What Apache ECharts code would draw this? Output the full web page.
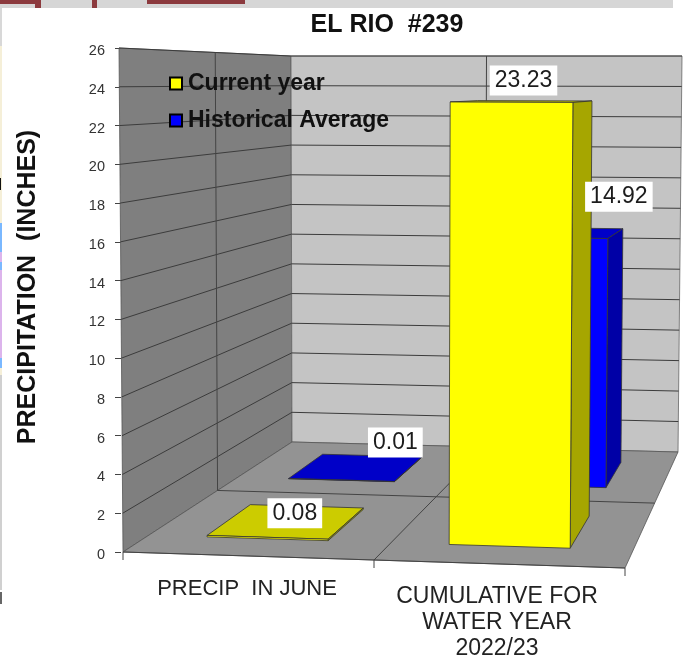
<!DOCTYPE html>
<html><head><meta charset="utf-8">
<style>html,body{margin:0;padding:0;background:#fff}#c{width:694px;height:658px}</style>
<script src="https://cdn.jsdelivr.net/npm/echarts@6/dist/echarts.min.js"></script>
</head><body><div id="c"></div>
<script>
const categories = ['PRECIP  IN JUNE', 'CUMULATIVE FOR\nWATER YEAR\n2022/23'];
const currentYear = [0.08, 23.23];
const historicalAverage = [0.01, 14.92];
const yMax = 26;
const yStep = 2;
const yTicks = [0,2,4,6,8,10,12,14,16,18,20,22,24,26];

const FONT = '"Liberation Sans", Arial, sans-serif';
const LINE = '#3c3c3c';
// frame of the perspective box: floor corners and ceiling corners
const base = {LF:[123,552], RF:[625,568], LB:[292,442], RB:[678,452]};
const roof = {LF:[119,48], RF:[629,48], LB:[291,56], RB:[682,56]};
const K = 1.27;
const mix = (a,b,f)=>[a[0]+(b[0]-a[0])*f, a[1]+(b[1]-a[1])*f];
function project(u,d,t){
  const s = K*d/(1+(K-1)*d);
  const plane = c => mix(mix(c.LF,c.RF,u), mix(c.LB,c.RB,u), s);
  return mix(plane(base), plane(roof), t);
}
function tOf(api,v){
  const y0 = api.coord([0,0])[1], y1 = api.coord([0,yMax])[1];
  return (y0-api.coord([0,v])[1])/(y0-y1);
}
const poly = (pts,fill,z,stroke)=>({type:'polygon',z2:z||0,shape:{points:pts},
  style:{fill,stroke:stroke||'#333',lineWidth:0.8}});
const seg = (a,b,z,color,w)=>({type:'line',z2:z||0,shape:{x1:a[0],y1:a[1],x2:b[0],y2:b[1]},
  style:{stroke:color||LINE,lineWidth:w||1,fill:null}});

function renderFrame(params,api){
  const kids=[];
  const P=project;
  kids.push(poly([P(0,0,0),P(0,0,1),P(0,1,1),P(0,1,0)],'#7f7f7f',0,'#555'));
  kids.push(poly([P(0,1,0),P(0,1,1),P(1,1,1),P(1,1,0)],'#c4c4c4',0,'#666'));
  kids.push(poly([P(0,0,0),P(0,1,0),P(1,1,0),P(1,0,0)],'#939393',0,'#555'));
  yTicks.forEach(v=>{
    if(v===0) return;
    const t=tOf(api,v);
    kids.push(seg(P(0,0,t),P(0,1,t),1));
    kids.push(seg(P(0,1,t),P(1,1,t),1));
  });
  kids.push(seg(P(0,.5,0),P(0,.5,1),1,'#444'));
  kids.push(seg(P(.5,1,0),P(.5,1,1),1,'#444'));
  kids.push(seg(P(0,.5,0),P(1,.5,0),1,'#444'));
  kids.push(seg(P(.5,0,0),P(.5,1,0),1,'#444'));
  kids.push(seg(P(0,0,0),P(1,0,0),1,'#444'));
  // slanted category axis ticks
  [0,.5,1].forEach(u=>{
    const a=P(u,0,0); kids.push(seg(a,[a[0],a[1]+8],1,'#444'));
  });
  return {type:'group',children:kids};
}
function centerU(params,api,i){
  const cs=params.coordSys;
  return (api.coord([i,0])[0]-cs.x)/cs.width-0.005;
}
function barRenderer(d0,d1,c){
  return function(params,api){
    const i=api.value(0), v=api.value(1);
    const uc=centerU(params,api,i);
    const u0=uc-.125,u1=uc+.125,t=tOf(api,v);
    const P=project, kids=[];
    kids.push(poly([P(u0,d0,t),P(u0,d1,t),P(u1,d1,t),P(u1,d0,t)],c.top,2));
    kids.push(poly([P(u1,d0,0),P(u1,d0,t),P(u1,d1,t),P(u1,d1,0)],c.side,2));
    kids.push(poly([P(u0,d0,0),P(u0,d0,t),P(u1,d0,t),P(u1,d0,0)],c.front,3));
    return {type:'group',children:kids};
  };
}
function labelRenderer(d0,d1,labelShift){
  return function(params,api){
    const i=api.value(0);
    const a=project(centerU(params,api,i),(d0+d1)/2,tOf(api,api.value(1))), sh=labelShift[i];
    return {type:'text',z2:20,style:{text:String(api.value(1)),x:a[0]+sh[0],y:a[1]+sh[1],
      align:'center',verticalAlign:'middle',font:'23px '+FONT,fill:'#1c1c1c',
      backgroundColor:'#fff',padding:[4,5,3,5]}};
  };
}
const pairs = arr => arr.map((v,i)=>[i,v]);

const chart = echarts.init(document.getElementById('c'),null,{renderer:'canvas'});
const redBits=[[0,0,40,4],[35,0,6,8],[92,0,5,8],[147,0,98,4]];
const leftBits=[[0,8,2,38,'#d8d8d8'],[0,46,2,177,'#f5efd8'],[0,178,1,12,'#111'],[0,223,2,29,'#7ab8ff'],[0,252,2,10,'#dcb4ec'],
  [0,262,2,8,'#7ab8ff'],[0,270,2,88,'#dcb4ec'],[0,358,2,10,'#7ab8ff'],[0,368,2,7,'#f5efd8'],[0,375,2,215,'#d0d0d0'],[0,592,2,12,'#666']];
const custom2d = {type:'custom',coordinateSystem:'cartesian2d',encode:{x:0,y:1}};
chart.setOption({
  animation:false,
  backgroundColor:'#fff',
  title:{text:'EL RIO  #239',left:382,textAlign:'center',top:8,
    textStyle:{fontFamily:FONT,fontWeight:'bold',fontSize:25,color:'#111'}},
  legend:{left:169,top:72,padding:0,orient:'vertical',itemWidth:12,itemHeight:12,itemGap:14,z:30,
    icon:'rect',data:['Current year','Historical Average'],
    textStyle:{fontFamily:FONT,fontWeight:'bold',fontSize:23,color:'#111',padding:[0,0,0,1]}},
  grid:{left:121,top:48,width:504,height:504,outerBoundsMode:'none'},
  xAxis:{type:'category',
    data:[{value:categories[0],textStyle:{fontSize:22}},{value:categories[1],textStyle:{fontSize:23,padding:[8,4,0,0]}}],
    axisLine:{show:false},axisTick:{show:false},
    axisLabel:{interval:0,margin:24,fontFamily:FONT,color:'#222',lineHeight:26,verticalAlign:'top'}},
  yAxis:{type:'value',min:0,max:yMax,interval:yStep,
    name:'PRECIPITATION  (INCHES)',nameLocation:'middle',nameGap:80,nameRotate:90,
    nameTextStyle:{fontFamily:FONT,fontWeight:'bold',fontSize:25,color:'#111',padding:[0,0,0,26]},
    axisLine:{show:false},splitLine:{show:false},
    axisTick:{show:true,length:6,lineStyle:{color:'#444'}},
    axisLabel:{margin:16,fontFamily:FONT,fontSize:14.5,color:'#333',verticalAlign:'top',lineHeight:6,showMinLabel:true,showMaxLabel:true}},
  graphic:[
    {type:'rect',z:50,shape:{x:0,y:0,width:673,height:8},style:{fill:'#d6d6d6'}},
    ...redBits.map(b=>({type:'rect',z:51,shape:{x:b[0],y:b[1],width:b[2],height:b[3]},style:{fill:'#8c3a3e'}})),
    ...leftBits.map(b=>({type:'rect',z:51,shape:{x:b[0],y:b[1],width:b[2],height:b[3]},style:{fill:b[4]}}))
  ],
  series:[
    {...custom2d,silent:true,z:1,data:[[0,0]],renderItem:renderFrame},
    {...custom2d,name:'Historical Average',z:2,
      itemStyle:{color:'#0000ff',borderColor:'#000',borderWidth:1},data:pairs(historicalAverage),
      renderItem:barRenderer(.625,.875,{front:'#0000ff',side:'#0000a6',top:'#0000c8'})},
    {...custom2d,name:'Current year',z:3,
      itemStyle:{color:'#ffff00',borderColor:'#000',borderWidth:1},data:pairs(currentYear),
      renderItem:barRenderer(.125,.375,{front:'#ffff00',side:'#a6a600',top:'#cccc00'})},
    {...custom2d,silent:true,z:5,data:pairs(historicalAverage),renderItem:labelRenderer(.625,.875,[[38,-25],[55,-36]])},
    {...custom2d,silent:true,z:5,data:pairs(currentYear),renderItem:labelRenderer(.125,.375,[[7,-8],[0,-21]])}
  ]
});
</script></body></html>
